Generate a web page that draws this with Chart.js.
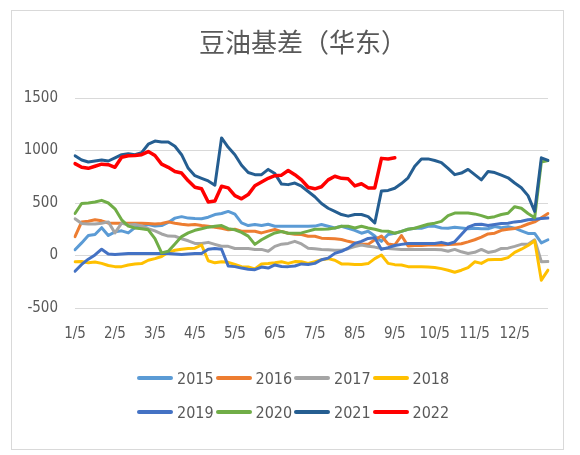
<!DOCTYPE html>
<html>
<head>
<meta charset="utf-8">
<script src="https://cdn.jsdelivr.net/npm/chart.js@4.4.0/dist/chart.umd.min.js"></script>
<style>
html, body { margin: 0; padding: 0; background: #fff; }
#wrap { position: relative; width: 580px; height: 455px; }
#frame { position: absolute; left: 11px; top: 10px; width: 551px; height: 438px; border: 1px solid #d9d9d9; pointer-events: none; }
#title { position: absolute; left: 199px; top: 21px; width: 200px; text-align: center; white-space: nowrap; font-family: 'Noto Sans CJK SC', sans-serif; font-size: 26px; line-height: 40px; color: #595959; }
#legend { position: absolute; left: 137px; top: 361px; font-family: 'Liberation Sans Narrow', 'DejaVu Sans Condensed', 'Noto Sans', sans-serif; font-size: 16px; color: #595959; }
.row { display: flex; height: 34px; align-items: center; }
.item { display: flex; align-items: center; width: 78.5px; }
.swatch { width: 36px; height: 4px; border-radius: 2px; margin-right: 4px; }
</style>
</head>
<body>
<div id="wrap">
  <canvas id="chart" width="580" height="455"></canvas>
  <div id="frame"></div>
  <div id="title">豆油基差（华东）</div>
  <div id="legend"></div>
</div>
<script>
// dates every 5 days, only the x/5 ones get a label
var categories = [
  "1/5","1/10","1/15","1/20","1/25","1/30",
  "2/5","2/10","2/15","2/20","2/25","2/28",
  "3/5","3/10","3/15","3/20","3/25","3/30",
  "4/5","4/10","4/15","4/20","4/25","4/30",
  "5/5","5/10","5/15","5/20","5/25","5/30",
  "6/5","6/10","6/15","6/20","6/25","6/30",
  "7/5","7/10","7/15","7/20","7/25","7/30",
  "8/5","8/10","8/15","8/20","8/25","8/30",
  "9/5","9/10","9/15","9/20","9/25","9/30",
  "10/5","10/10","10/15","10/20","10/25","10/30",
  "11/5","11/10","11/15","11/20","11/25","11/30",
  "12/5","12/10","12/15","12/20","12/25","12/30"
];

var years = ["2015", "2016", "2017", "2018", "2019", "2020", "2021", "2022"];
var colors = ["#5b9bd5", "#ed7d31", "#a5a5a5", "#ffc000", "#4472c4", "#70ad47", "#255e91", "#ff0000"];
var yTicks = [-500, 0, 500, 1000, 1500];

var s2015 = [55,120,190,200,265,190,225,235,215,265, 279,295,280,285,315,356,370,356,352,350,
  365,390,400,420,394,310,285,295,285,298, 279,279,279,279,279,279,280,295,279,262,
  279,260,240,212,231,185,135,200,212,230, 250,260,260,279,279,262,260,270,262,255,
  260,255,255,275,265,275,260,235,210,210, 120,150];
var s2016 = [180,320,327,340,330,310,308,308,308,308, 308,305,300,305,320,308,298,290,295,285,
  279,270,260,245,250,232,231,231,215,232, 248,228,212,202,200,183,183,165,163,160,
  152,135,120,106,106,150,185,110,100,190, 90,95,95,100,100,100,105,106,112,130,
  150,175,205,212,240,250,258,275,300,320, 360,400];
var s2017 = [350,305,300,300,308,320,215,308,290,295, 282,255,235,205,185,183,160,140,115,115,
  125,106,88,87,67,67,67,58,58,40, 87,108,115,135,110,70,65,58,55,50,
  50,65,85,100,87,80,67,67,62,58, 58,58,58,58,58,55,40,58,35,19,
  30,58,29,40,67,70,87,106,108,150, -60,-58];
var s2018 = [-60,-58,-70,-62,-75,-95,-106,-106,-90,-80, -77,-45,-30,-10,30,50,60,67,70,100,
  -50,-70,-60,-65,-85,-106,-110,-128,-80,-77, -70,-60,-75,-58,-60,-75,-58,-40,-30,-45,
  -80,-80,-85,-85,-77,-30,5,-75,-87,-90, -106,-106,-106,-110,-115,-125,-140,-160,-140,-115,
  -60,-75,-40,-38,-38,-20,30,60,95,140, -235,-140];
var s2019 = [-150,-85,-35,5,60,15,10,15,19,19, 19,19,19,19,19,15,10,15,19,19,
  60,67,60,-100,-106,-120,-130,-135,-110,-120, -90,-105,-106,-100,-80,-85,-75,-40,-25,20,
  40,70,115,135,163,170,58,75,95,106, 115,115,115,115,115,125,110,130,200,270,
  295,298,285,295,305,308,320,327,340,346, 352,356];
var s2020 = [400,495,500,510,525,500,445,340,280,262, 255,245,160,25,40,110,180,215,240,255,
  270,279,285,255,245,220,185,106,150,185, 215,228,212,212,215,232,250,250,252,262,
  279,279,262,278,262,250,233,231,212,230, 250,260,279,298,308,325,380,404,404,404,
  396,380,360,370,390,402,465,450,400,360, 890,905];
var s2021 = [950,910,890,900,910,900,930,960,970,960, 980,1060,1090,1080,1080,1040,960,830,760,735,
  710,670,1120,1030,960,860,790,770,770,820, 780,680,675,690,660,610,560,495,450,420,
  390,375,390,390,370,310,615,620,640,685, 740,850,920,920,905,885,830,770,785,820,
  770,720,800,790,765,740,690,645,570,420, 930,905];
var s2022 = [875,840,830,850,870,865,840,935,950,952, 960,990,952,870,840,800,785,711,650,635,
  510,519,660,644,570,540,580,665,700,735, 760,765,810,770,720,650,635,655,720,755,
  735,730,663,683,644,644,925,920,930];

var series = [s2015, s2016, s2017, s2018, s2019, s2020, s2021, s2022];

var tickFont = { family: "'Liberation Sans Narrow', 'DejaVu Sans Condensed', 'Noto Sans', sans-serif", size: 15 };

var ctx = document.getElementById("chart").getContext("2d");
var myChart = new Chart(ctx, {
    type: "line",
    data: {
        labels: categories,
        datasets: years.map(function (y, k) {
            return {
                label: y,
                data: series[k],
                borderColor: colors[k],
                backgroundColor: colors[k],
                borderWidth: k === 7 ? 3.5 : 3,
                pointRadius: 0,
                tension: 0,
                borderJoinStyle: "round",
                borderCapStyle: "round",
                order: years.length - k, // later years on top, like the original
            };
        }),
    },
    options: {
        responsive: false,
        animation: false,
        layout: { padding: { left: 0, right: 32, top: 98, bottom: 107 } },
        plugins: {
            legend: { display: false },
            tooltip: { enabled: false },
            title: { display: false },
        },
        scales: {
            x: {
                grid: { display: false },
                border: { display: false },
                ticks: {
                    autoSkip: false,
                    maxRotation: 0,
                    padding: 9,
                    color: "#595959",
                    font: tickFont,
                    callback: function (v, i) {
                        return /\/5$/.test(categories[i]) ? categories[i] : "";
                    },
                },
                afterFit: function (s) { s.height = 40; },
            },
            y: {
                min: yTicks[0],
                max: yTicks[yTicks.length - 1],
                afterBuildTicks: function (s) {
                    s.ticks = yTicks.map(function (v) { return { value: v }; });
                },
                ticks: {
                    padding: 17,
                    color: "#595959",
                    font: tickFont,
                    callback: function (v) { return String(v); },
                },
                grid: { color: "#d9d9d9", drawTicks: false },
                border: { display: false },
                afterFit: function (s) { s.width = 75; },
            },
        },
    },
});

// legend in two rows of four, like the source
var legend = document.getElementById("legend");
for (var r = 0; r < 2; r++) {
    var row = document.createElement("div");
    row.className = "row";
    for (var c = 0; c < 4; c++) {
        var k = r * 4 + c;
        var item = document.createElement("div");
        item.className = "item";
        var sw = document.createElement("span");
        sw.className = "swatch";
        sw.style.background = colors[k];
        var tx = document.createElement("span");
        tx.textContent = years[k];
        item.appendChild(sw);
        item.appendChild(tx);
        row.appendChild(item);
    }
    legend.appendChild(row);
}
</script>
</body>
</html>
